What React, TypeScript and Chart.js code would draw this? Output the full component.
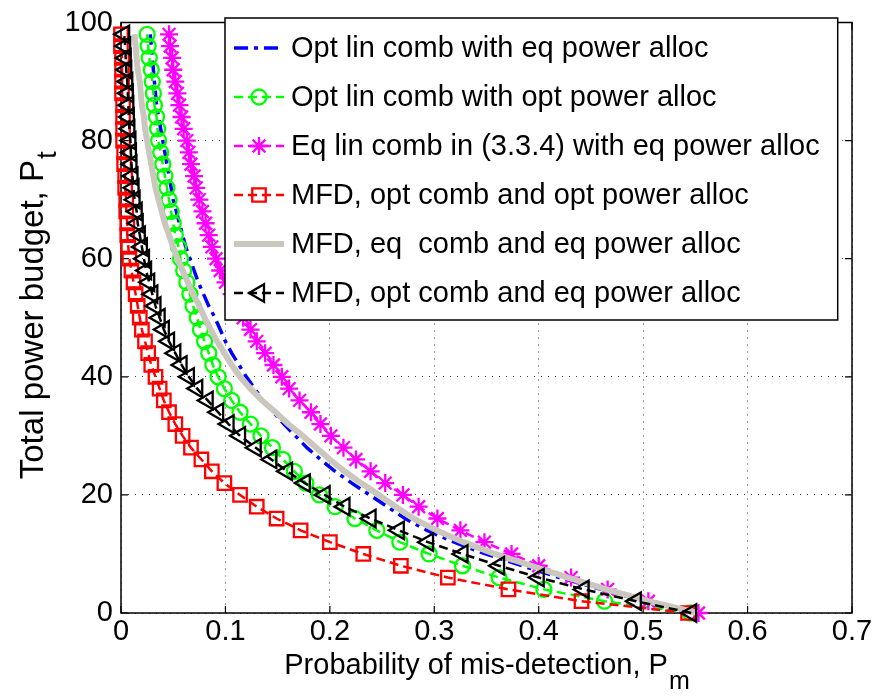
import React, { useEffect, useRef } from 'react';
import { Chart, registerables } from 'chart.js';

Chart.register(...registerables);

// Total power budget P_t (y) at which every curve is sampled
const PT = [0, 2, 4, 6, 8, 10, 12, 14, 16, 18, 20, 22, 24, 26, 28, 30, 32, 34, 36, 38, 40, 42, 44, 46, 48,
  50, 52, 54, 56, 58, 60, 62, 64, 66, 68, 70, 72, 74, 76, 78, 80, 82, 84, 86, 88, 90, 92, 94, 96, 98];

// Probability of mis-detection P_m for each series (same order as PT)
const optLinEqPower = [0.550, 0.503, 0.460, 0.420, 0.384, 0.349, 0.319, 0.293, 0.272, 0.255,
  0.238, 0.221, 0.205, 0.191, 0.178, 0.167, 0.156, 0.146, 0.136, 0.128,
  0.120, 0.113, 0.106, 0.100, 0.095, 0.090, 0.084, 0.079, 0.074, 0.070,
  0.066, 0.062, 0.059, 0.056, 0.053, 0.050, 0.048, 0.046, 0.044, 0.042,
  0.040, 0.038, 0.036, 0.034, 0.033, 0.032, 0.031, 0.030, 0.029, 0.028];

const optLinOptPower = [0.545, 0.463, 0.405, 0.362, 0.327, 0.295, 0.267, 0.245, 0.224, 0.205,
  0.190, 0.177, 0.166, 0.155, 0.145, 0.134, 0.124, 0.114, 0.106, 0.099,
  0.093, 0.088, 0.084, 0.080, 0.076, 0.073, 0.069, 0.066, 0.063, 0.060,
  0.057, 0.055, 0.052, 0.050, 0.048, 0.046, 0.044, 0.042, 0.040, 0.038,
  0.036, 0.035, 0.034, 0.032, 0.031, 0.030, 0.029, 0.027, 0.026, 0.025];

const eqLinEqPower = [0.553, 0.505, 0.466, 0.431, 0.400, 0.374, 0.348, 0.325, 0.303, 0.285,
  0.270, 0.253, 0.239, 0.225, 0.213, 0.201, 0.191, 0.182, 0.171, 0.161,
  0.154, 0.146, 0.138, 0.130, 0.124, 0.117, 0.111, 0.106, 0.100, 0.095,
  0.091, 0.087, 0.084, 0.081, 0.078, 0.075, 0.072, 0.070, 0.067, 0.065,
  0.063, 0.060, 0.058, 0.056, 0.054, 0.052, 0.050, 0.049, 0.047, 0.046];

const mfdOptCombOptPower = [0.543, 0.441, 0.371, 0.313, 0.268, 0.232, 0.200, 0.172, 0.149, 0.130,
  0.114, 0.099, 0.087, 0.077, 0.067, 0.059, 0.052, 0.046, 0.041, 0.037,
  0.033, 0.029, 0.026, 0.023, 0.020, 0.018, 0.016, 0.014, 0.012, 0.010,
  0.008, 0.007, 0.006, 0.006, 0.005, 0.005, 0.004, 0.004, 0.003, 0.003,
  0.002, 0.002, 0.002, 0.002, 0.001, 0.001, 0.001, 0.001, 0.000, 0.000];

const mfdEqCombEqPower = [0.552, 0.505, 0.465, 0.428, 0.393, 0.358, 0.328, 0.302, 0.280, 0.263,
  0.247, 0.230, 0.214, 0.200, 0.187, 0.174, 0.160, 0.148, 0.135, 0.124,
  0.114, 0.106, 0.099, 0.092, 0.086, 0.080, 0.075, 0.069, 0.064, 0.059,
  0.054, 0.050, 0.046, 0.042, 0.039, 0.036, 0.033, 0.031, 0.029, 0.027,
  0.025, 0.023, 0.022, 0.020, 0.019, 0.018, 0.016, 0.015, 0.014, 0.013];

const mfdOptCombEqPower = [0.546, 0.493, 0.443, 0.400, 0.362, 0.327, 0.294, 0.266, 0.239, 0.214,
  0.195, 0.176, 0.159, 0.144, 0.129, 0.114, 0.103, 0.093, 0.083, 0.073,
  0.065, 0.058, 0.052, 0.046, 0.041, 0.037, 0.033, 0.030, 0.027, 0.024,
  0.022, 0.020, 0.018, 0.016, 0.015, 0.013, 0.012, 0.011, 0.010, 0.0095,
  0.009, 0.008, 0.0075, 0.007, 0.0065, 0.006, 0.005, 0.0045, 0.004, 0.003];

const X_TICKS = [0, 0.1, 0.2, 0.3, 0.4, 0.5, 0.6, 0.7];
const Y_TICKS = [0, 20, 40, 60, 80, 100];

const LEGEND_LABELS = [
  'Opt lin comb with eq power alloc',
  'Opt lin comb with opt power alloc',
  'Eq lin comb in (3.3.4) with eq power alloc',
  'MFD, opt comb and opt power alloc',
  'MFD, eq  comb and eq power alloc',
  'MFD, opt comb and eq power alloc',
];

const X_TITLE = 'Probability of mis-detection, P';
const X_TITLE_SUB = 'm';
const Y_TITLE = 'Total power budget, P';
const Y_TITLE_SUB = 't';

const FONT = '"Liberation Sans", Arial, Helvetica, sans-serif';

// styling (kept apart from the data)
const SERIES = [
  { values: optLinEqPower, color: '#0000ff', width: 3.5, dash: [14, 6, 4, 6], marker: 'none', r: 0 },
  { values: optLinOptPower, color: '#00ff00', width: 2.5, dash: [9, 5], marker: 'circle', r: 7.5 },
  { values: eqLinEqPower, color: '#ff00ff', width: 2.5, dash: [9, 5], marker: 'star', r: 9 },
  { values: mfdOptCombOptPower, color: '#ff0000', width: 2.5, dash: [9, 5], marker: 'rect', r: 9.5 },
  { values: mfdEqCombEqPower, color: '#cbc7bf', width: 6, dash: [], marker: 'none', r: 0 },
  { values: mfdOptCombEqPower, color: '#000000', width: 2.5, dash: [9, 5], marker: 'triLeft', r: 10 },
];

function drawMarker(ctx: CanvasRenderingContext2D, style: string, x: number, y: number, r: number) {
  ctx.beginPath();
  if (style === 'circle') {
    ctx.arc(x, y, r, 0, Math.PI * 2);
  } else if (style === 'rect') {
    const s = r * Math.SQRT1_2;
    ctx.rect(x - s, y - s, 2 * s, 2 * s);
  } else if (style === 'star') {
    for (let k = 0; k < 4; k++) {
      const a = (k * Math.PI) / 4;
      ctx.moveTo(x - Math.cos(a) * r, y - Math.sin(a) * r);
      ctx.lineTo(x + Math.cos(a) * r, y + Math.sin(a) * r);
    }
  } else if (style === 'triLeft') {
    ctx.moveTo(x - r, y);
    ctx.lineTo(x + r / 2, y - (r * Math.sqrt(3)) / 2);
    ctx.lineTo(x + r / 2, y + (r * Math.sqrt(3)) / 2);
    ctx.closePath();
  } else {
    return;
  }
  ctx.stroke();
}

const matlabPlugin = {
  id: 'matlabLook',
  beforeDatasetsDraw(chart: any) {
    const { ctx, chartArea: a, scales } = chart;
    ctx.save();
    ctx.strokeStyle = '#000';
    ctx.lineWidth = 1.5;
    ctx.setLineDash([]);
    ctx.strokeRect(a.left, a.top, a.right - a.left, a.bottom - a.top);
    const tl = 7;
    ctx.lineWidth = 1.2;
    ctx.beginPath();
    X_TICKS.forEach((v) => {
      const px = scales.x.getPixelForValue(v);
      ctx.moveTo(px, a.bottom); ctx.lineTo(px, a.bottom - tl);
      ctx.moveTo(px, a.top); ctx.lineTo(px, a.top + tl);
    });
    Y_TICKS.forEach((v) => {
      const py = scales.y.getPixelForValue(v);
      ctx.moveTo(a.left, py); ctx.lineTo(a.left + tl, py);
      ctx.moveTo(a.right, py); ctx.lineTo(a.right - tl, py);
    });
    ctx.stroke();
    ctx.restore();
  },
  afterDatasetsDraw(chart: any) {
    const { ctx } = chart;
    ctx.save();
    ctx.font = `29px ${FONT}`;
    const textX = 291;
    let maxW = 0;
    LEGEND_LABELS.forEach((t) => { maxW = Math.max(maxW, ctx.measureText(t).width); });
    const left = 225, top = 18, bottom = 320;
    const right = textX + maxW + 18;
    ctx.fillStyle = '#fff';
    ctx.fillRect(left, top, right - left, bottom - top);
    ctx.strokeStyle = '#000';
    ctx.lineWidth = 1.5;
    ctx.setLineDash([]);
    ctx.strokeRect(left, top, right - left, bottom - top);
    SERIES.forEach((s, i) => {
      const cy = top + 30 + i * 49;
      ctx.save();
      ctx.strokeStyle = s.color;
      ctx.lineWidth = s.width;
      ctx.setLineDash(s.dash);
      ctx.beginPath();
      ctx.moveTo(234, cy);
      ctx.lineTo(284, cy);
      ctx.stroke();
      ctx.setLineDash([]);
      ctx.lineWidth = 2.3;
      drawMarker(ctx, s.marker, 259, cy, s.r);
      ctx.restore();
      ctx.fillStyle = '#000';
      ctx.textBaseline = 'middle';
      ctx.textAlign = 'left';
      ctx.fillText(LEGEND_LABELS[i], textX, cy + 1);
    });
    ctx.restore();
  },
  afterDraw(chart: any) {
    const { ctx, chartArea: a } = chart;
    ctx.save();
    ctx.fillStyle = '#000';
    ctx.textBaseline = 'alphabetic';
    ctx.textAlign = 'left';
    // x title
    const xMain = `29px ${FONT}`;
    const xSub = `25px ${FONT}`;
    ctx.font = xMain;
    const wMain = ctx.measureText(X_TITLE).width;
    ctx.font = xSub;
    const wSub = ctx.measureText(X_TITLE_SUB).width;
    const cx = (a.left + a.right) / 2;
    const x0 = cx - (wMain + wSub) / 2;
    ctx.font = xMain;
    ctx.fillText(X_TITLE, x0, 674);
    ctx.font = xSub;
    ctx.fillText(X_TITLE_SUB, x0 + wMain + 1, 689);
    // y title (rotated)
    const yMain = `33px ${FONT}`;
    const ySub = `28px ${FONT}`;
    ctx.font = yMain;
    const wyMain = ctx.measureText(Y_TITLE).width;
    ctx.font = ySub;
    const wySub = ctx.measureText(Y_TITLE_SUB).width;
    ctx.translate(43, (a.top + a.bottom) / 2 - 2);
    ctx.rotate(-Math.PI / 2);
    const y0 = -(wyMain + wySub) / 2;
    ctx.font = yMain;
    ctx.fillText(Y_TITLE, y0, 0);
    ctx.font = ySub;
    ctx.fillText(Y_TITLE_SUB, y0 + wyMain + 1, 13);
    ctx.restore();
  },
};

export default function App() {
  const ref = useRef<HTMLCanvasElement | null>(null);
  useEffect(() => {
    document.body.style.margin = '0';
    const canvas = ref.current;
    if (!canvas) return;
    const chart = new Chart(canvas, {
      type: 'line',
      data: {
        datasets: SERIES.map((s, i) => ({
          label: LEGEND_LABELS[i],
          data: PT.map((y, j) => ({ x: s.values[j], y })),
          borderColor: s.color,
          borderWidth: s.width,
          borderDash: s.dash,
          pointStyle: s.marker === 'triLeft' ? 'triangle' : s.marker === 'none' ? false : s.marker,
          pointRotation: s.marker === 'triLeft' ? -90 : 0,
          pointRadius: s.marker === 'none' ? 0 : s.r,
          pointBorderWidth: 2.3,
          pointBorderColor: s.color,
          pointBackgroundColor: 'rgba(0,0,0,0)',
          tension: 0,
          fill: false,
          clip: false,
          order: SERIES.length - i,
        })),
      },
      options: {
        responsive: false,
        animation: false,
        events: [],
        layout: { padding: { left: 0, top: 15, right: 25, bottom: 0 } },
        plugins: {
          legend: { display: false },
          tooltip: { enabled: false },
        },
        scales: {
          x: {
            type: 'linear',
            min: 0,
            max: 0.7,
            afterBuildTicks: (s: any) => { s.ticks = X_TICKS.map((v) => ({ value: v })); },
            afterFit: (s: any) => { s.height = 85; },
            ticks: {
              autoSkip: false,
              maxRotation: 0,
              padding: 4,
              color: '#000',
              font: { family: FONT, size: 29, lineHeight: 1 },
              callback: (v: any) => (Number(v) === 0 ? '0' : Number(v).toFixed(1)),
            },
            grid: { color: 'rgba(0,0,0,0.75)', lineWidth: 1, drawTicks: false },
            border: { display: false, dash: [1, 6] },
          },
          y: {
            type: 'linear',
            min: 0,
            max: 100,
            afterBuildTicks: (s: any) => { s.ticks = Y_TICKS.map((v) => ({ value: v })); },
            afterFit: (s: any) => { s.width = 121; },
            ticks: {
              autoSkip: false,
              padding: 8,
              color: '#000',
              font: { family: FONT, size: 29, lineHeight: 1 },
              callback: (v: any) => String(v),
            },
            grid: { color: 'rgba(0,0,0,0.75)', lineWidth: 1, drawTicks: false },
            border: { display: false, dash: [1, 6] },
          },
        },
      },
      plugins: [matlabPlugin],
    } as any);
    return () => chart.destroy();
  }, []);
  return (
    <div style={{ position: 'fixed', left: 0, top: 0, width: 877, height: 698, background: '#fff' }}>
      <canvas ref={ref} width={877} height={698} style={{ display: 'block', width: 877, height: 698 }} />
    </div>
  );
}
